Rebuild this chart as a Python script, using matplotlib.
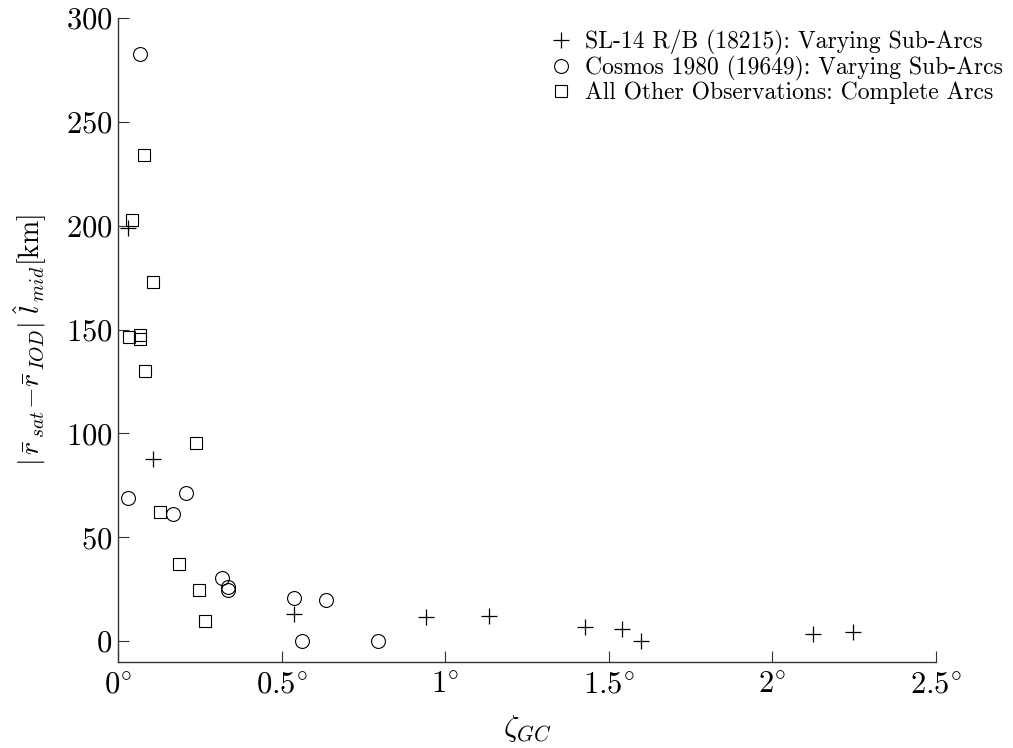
import numpy as np
import matplotlib
matplotlib.use("Agg")
import matplotlib.pyplot as plt

plt.rcParams['font.family'] = 'serif'
plt.rcParams['font.serif'] = ['cmr10']
plt.rcParams['mathtext.fontset'] = 'cm'
plt.rcParams['axes.unicode_minus'] = False
plt.rcParams['axes.formatter.use_mathtext'] = True

#----------- data -----------------------------------------
sl14_x = [0.031, 0.107, 0.538, 0.941, 1.134, 1.427, 1.540, 1.598, 2.124, 2.246]
sl14_y = [199.0, 87.5, 13.0, 11.5, 12.0, 6.7, 5.8, 0.0, 3.4, 4.3]

cosmos_x = [0.067, 0.031, 0.208, 0.168, 0.318, 0.336, 0.336, 0.538, 0.636, 0.562, 0.795]
cosmos_y = [282.7, 69.0, 71.4, 61.0, 30.4, 26.2, 24.6, 20.8, 19.7, 0.0, 0.0]

other_x = [0.078, 0.043, 0.107, 0.035, 0.068, 0.068, 0.082, 0.237, 0.128, 0.186, 0.248, 0.267]
other_y = [234.0, 202.7, 172.7, 146.3, 147.6, 145.5, 130.3, 95.3, 62.0, 37.0, 24.7, 9.8]

labels = ['SL-14 R/B (18215): Varying Sub-Arcs',
          'Cosmos 1980 (19649): Varying Sub-Arcs',
          'All Other Observations: Complete Arcs']

xticks = [0, 0.5, 1, 1.5, 2, 2.5]
xticklabels = [r'$0^{\circ}$', r'$0.5^{\circ}$', r'$1^{\circ}$',
               r'$1.5^{\circ}$', r'$2^{\circ}$', r'$2.5^{\circ}$']
yticks = [0, 50, 100, 150, 200, 250, 300]

fig = plt.figure(figsize=(10.13, 7.48), dpi=100)
ax = fig.add_axes([0.1165, 0.115, 0.8075, 0.861])

ax.plot(sl14_x, sl14_y, '+', color='black', markersize=11, markeredgewidth=0.9,
        linestyle='none', label=labels[0])
ax.plot(cosmos_x, cosmos_y, 'o', markerfacecolor='none', markeredgecolor='black',
        markersize=10, markeredgewidth=0.8, linestyle='none', label=labels[1])
ax.plot(other_x, other_y, 's', markerfacecolor='none', markeredgecolor='black',
        markersize=9, markeredgewidth=0.8, linestyle='none', label=labels[2])

ax.set_xlim(0, 2.5)
ax.set_ylim(-10, 300)
ax.set_xticks(xticks)
ax.set_xticklabels(xticklabels, fontsize=22)
ax.set_yticks(yticks)
ax.set_yticklabels([r'$%d$' % v for v in yticks], fontsize=22)

ax.spines['top'].set_visible(False)
ax.spines['right'].set_visible(False)
for s in ['left', 'bottom']:
    ax.spines[s].set_color('#333333')
    ax.spines[s].set_linewidth(1.0)
ax.tick_params(direction='in', length=8, width=0.8, color='#333333')
ax.tick_params(axis='y', pad=4)
ax.tick_params(axis='x', pad=7)

ax.set_xlabel(r'$\zeta_{GC}$', fontsize=22, labelpad=10)
ax.set_ylabel(r'$|\,\bar{r}_{\,sat}\!-\!\bar{r}_{\,IOD}|\;\hat{l}_{\,mid}$[km]',
              fontsize=20, labelpad=12)

leg = ax.legend(loc='upper right', bbox_to_anchor=(1012 / 1013, 1 - 20 / 748),
                bbox_transform=fig.transFigure, frameon=False, fontsize=17,
                handletextpad=0.5, labelspacing=0.05, borderaxespad=0,
                handlelength=1.0)

fig.savefig('out.png', dpi=100)
